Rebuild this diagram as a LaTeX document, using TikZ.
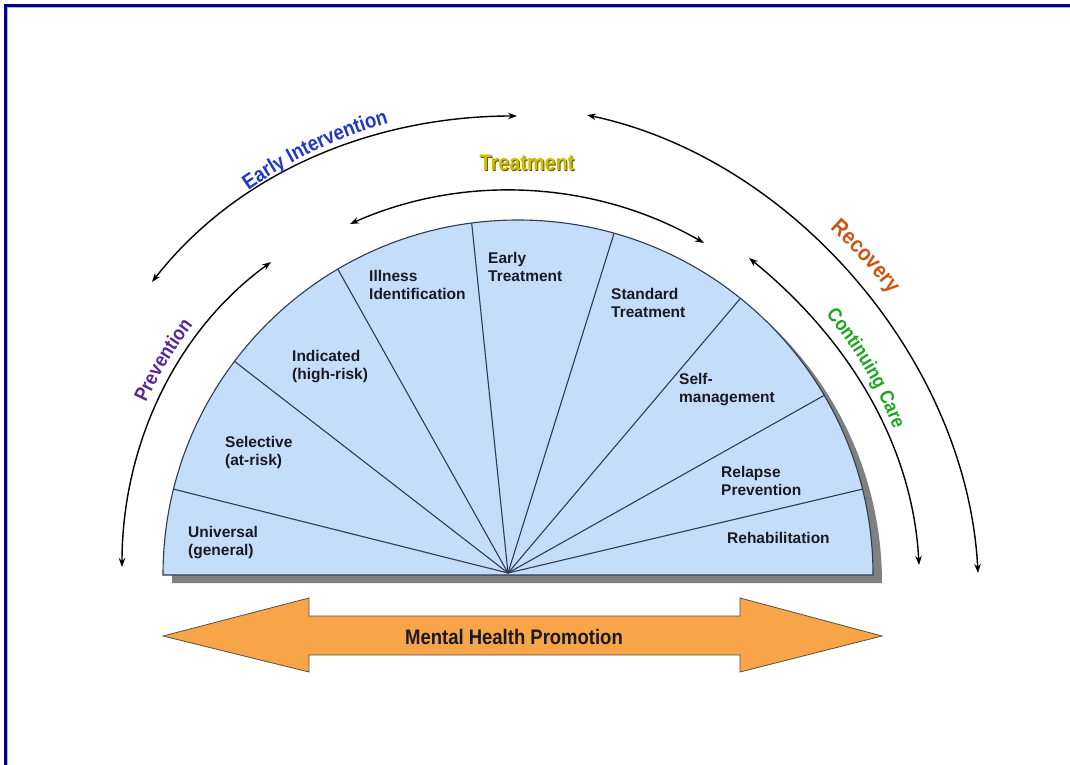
\documentclass[tikz,border=0pt]{standalone}
\usepackage{fontspec}
\setmainfont{Liberation Sans}
\newfontfamily\narrowbold{Liberation Sans Bold}[FakeStretch=0.88]
\usetikzlibrary{arrows.meta,decorations.text}

\definecolor{framenavy}{RGB}{0,0,128}
\definecolor{framelight}{RGB}{176,176,232}
\definecolor{fanfill}{RGB}{196,222,250}
\definecolor{fanline}{RGB}{45,60,80}
\definecolor{fanshadow}{RGB}{128,128,128}
\definecolor{labeltext}{RGB}{25,25,35}
\definecolor{eiblue}{RGB}{35,55,200}
\definecolor{prevpurple}{RGB}{85,40,150}
\definecolor{treatyellow}{RGB}{210,190,0}
\definecolor{treatdark}{RGB}{95,85,0}
\definecolor{recorange}{RGB}{205,85,20}
\definecolor{ccgreen}{RGB}{30,165,30}
\definecolor{promoorange}{RGB}{248,164,72}
\definecolor{promoedge}{RGB}{90,80,70}

\tikzset{
  sector/.style={anchor=north west, inner sep=0pt, align=left,
    font=\fontsize{15.5}{18.5}\selectfont\bfseries, text=labeltext},
  divider/.style={draw=fanline, line width=1.1pt},
  phasearc/.style={draw=black, line width=1.4pt,
    {Stealth[length=9pt,width=6.5pt]}-{Stealth[length=9pt,width=6.5pt]},
    looseness=0.9},
  curvedlabel/.style={decorate, decoration={text along path, text align=center,
    text color=#1}},
}

\begin{document}
\begin{tikzpicture}[x=1pt,y=1pt]
  \path[use as bounding box] (0,0) rectangle (1070,764);
  \clip (0,0) rectangle (1070,764);
  \fill[white] (0,0) rectangle (1070,764);

  % page frame (open to the right and bottom)
  \draw[framelight, line width=1pt] (7.8,-20) -- (7.8,756.2) -- (1090,756.2);
  \draw[framenavy, line width=2.4pt] (5.5,-20) -- (5.5,758.5) -- (1090,758.5);

  % half disc: centre of the rim, hub of the spokes
  \coordinate (C) at (518,189);
  \coordinate (O) at (508,191);

  \fill[fanshadow] (172,181) arc[start angle=180, end angle=0, radius=355] -- cycle;
  \filldraw[fill=fanfill, draw=fanline, line width=1.1pt]
    (163,189) arc[start angle=180, end angle=0, radius=355] -- cycle;

  % spokes
  \foreach \n/\a in {1/166.0, 2/143.0, 3/120.5, 4/97.5, 5/74.3, 6/51.2, 7/30.4, 8/14.0} {
    \coordinate (d\n) at ([shift={(\a:355)}]C);
    \draw[divider] (O) -- (d\n);
  }

  % sector labels
  \node[sector] (universal) at (188,238) {Universal\\(general)};
  \node[sector] (selective) at (225,328) {Selective\\(at-risk)};
  \node[sector] (indicated) at (292,414) {Indicated\\(high-risk)};
  \node[sector] (illness)   at (369,494) {Illness\\Identification};
  \node[sector] (early)     at (488,512) {Early\\Treatment};
  \node[sector] (standard)  at (611,476) {Standard\\Treatment};
  \node[sector] (selfman)   at (679,391) {Self-\\management};
  \node[sector] (relapse)   at (721,298) {Relapse\\Prevention};
  \node[sector] (rehab)     at (727,232) {Rehabilitation};

  % end points of the phase arrows
  \coordinate (eiL) at (152,482);
  \coordinate (eiR) at (517,648);
  \coordinate (pvB) at (122,197);
  \coordinate (pvT) at (271,502);
  \coordinate (trL) at (350,540);
  \coordinate (trR) at (704,521);
  \coordinate (rcL) at (587,649);
  \coordinate (rcB) at (978,191);
  \coordinate (ccB) at (919,199);
  \coordinate (ccT) at (749,506);

  \draw[phasearc] (eiL) to[out=52, in=180] (eiR);
  \draw[phasearc] (pvB) to[out=90, in=216] (pvT);
  \draw[phasearc] (trL) to[out=24, in=150] (trR);
  \draw[phasearc] (rcL) to[out=-12, in=93] (rcB);
  \draw[phasearc] (ccB) to[out=93, in=321] (ccT);

  % phase names
  \path[curvedlabel=eiblue, decoration={text={|\narrowbold\fontsize{21}{21}\selectfont|Early Intervention}}]
    ([shift={(130:470)}]C) arc[start angle=130, end angle=101, radius=470];
  \path[curvedlabel=prevpurple, decoration={text={|\narrowbold\fontsize{20}{20}\selectfont|Prevention}}]
    ([shift={(158:410)}]C) arc[start angle=158, end angle=139.6, radius=410];
  \path[curvedlabel=recorange, decoration={text={|\narrowbold\fontsize{22.5}{22.5}\selectfont|Recovery}}]
    ([shift={(52:466)}]C) arc[start angle=52, end angle=33, radius=466];
  \path[curvedlabel=ccgreen, decoration={text={|\narrowbold\fontsize{19.5}{19.5}\selectfont|Continuing Care}}]
    ([shift={(41:403)}]C) arc[start angle=41, end angle=20.4, radius=403];

  \node[text=treatdark, font=\narrowbold\fontsize{22.5}{22.5}\selectfont] (treatshade) at (528,600) {Treatment};
  \node[text=treatyellow, font=\narrowbold\fontsize{22.5}{22.5}\selectfont] (treatment) at (527,601) {Treatment};

  % promotion band
  \filldraw[fill=promoorange, draw=promoedge, line width=0.8pt]
    (163,128) -- (309,166) -- (309,148) -- (740,148) -- (740,166) -- (882,128)
    -- (740,92) -- (740,109) -- (309,109) -- (309,92) -- cycle;
  \node[font=\narrowbold\fontsize{21}{21}\selectfont, text=labeltext] (promo) at (514,127) {Mental Health Promotion};
\end{tikzpicture}
\end{document}
